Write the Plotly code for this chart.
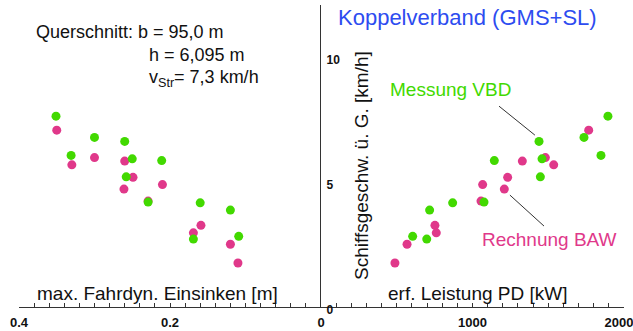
import plotly.graph_objects as go

W, H = 633, 331
FONT = "Liberation Sans, Arial, sans-serif"

# Measured values (green) and computed values (pink); shared speed axis
speed_mess = [7.60, 6.75, 6.59, 6.03, 5.89, 5.82, 5.17, 4.16, 4.13, 3.84, 2.79, 2.68]
sink_mess = [0.351, 0.300, 0.260, 0.331, 0.250, 0.211, 0.258, 0.229, 0.160, 0.120, 0.109, 0.169]
power_mess = [1894, 1736, 1439, 1848, 1459, 1144, 1448, 1076, 869, 717, 605, 698]

speed_rech = [7.04, 5.94, 5.80, 5.65, 5.15, 4.86, 4.68, 4.20, 3.23, 2.93, 2.47, 1.72]
sink_rech = [0.350, 0.300, 0.260, 0.330, 0.249, 0.210, 0.261, 0.229, 0.159, 0.169, 0.120, 0.110]
power_rech = [1767, 1481, 1329, 1536, 1232, 1067, 1210, 1056, 752, 761, 568, 488]

sink_ticks = [0.4, 0.2, 0]
sink_ticktext = ["0.4", "0.2", "0"]
power_ticks = [1000]
power_ticktext = ["1000"]
power_end_tick = [2000]
power_end_text = ["2000"]
speed_ticks = [0, 5, 10]

GREEN = "#42d900"
PINK = "#e0388a"
BLUE = "#2d4cf0"
AXIS = "#333333"
NONE = "rgba(0,0,0,0)"

def px(x):
    return x / W

def py(y):
    return 1 - y / H

fig = go.Figure()
mk = dict(size=9, line=dict(width=0))
fig.add_trace(go.Scatter(x=sink_rech, y=speed_rech, mode="markers", xaxis="x", yaxis="y",
                         marker=dict(color=PINK, **mk), showlegend=False))
fig.add_trace(go.Scatter(x=power_rech, y=speed_rech, mode="markers", xaxis="x2", yaxis="y",
                         marker=dict(color=PINK, **mk), showlegend=False))
fig.add_trace(go.Scatter(x=sink_mess, y=speed_mess, mode="markers", xaxis="x", yaxis="y",
                         marker=dict(color=GREEN, **mk), showlegend=False))
fig.add_trace(go.Scatter(x=power_mess, y=speed_mess, mode="markers", xaxis="x2", yaxis="y",
                         marker=dict(color=GREEN, **mk), showlegend=False))
# empty trace so that the overlay axis carrying the end label gets drawn
fig.add_trace(go.Scatter(x=[], y=[], mode="markers", xaxis="x3", yaxis="y",
                         showlegend=False, hoverinfo="skip"))

xtickfont = dict(family=FONT, size=13, color="#111", weight="bold")
ytickfont = dict(family=FONT, size=12, color="#111", weight="bold")
axis_common = dict(showline=True, linewidth=1, showgrid=False, zeroline=False,
                   ticks="inside", ticklen=4, tickwidth=1, automargin=False, tickangle=0,
                   ticklabeloverflow="allow", ticklabelstandoff=3, tickfont=xtickfont,
                   fixedrange=True)

LEFT_DOM = [px(19), px(321)]
RIGHT_DOM = [px(321), px(624)]

fig.update_layout(
    template="none",
    width=W, height=H,
    margin=dict(l=0, r=0, t=0, b=0, pad=0),
    paper_bgcolor="white", plot_bgcolor="rgba(0,0,0,0)",
    xaxis=dict(domain=LEFT_DOM, range=[0.4, 0], anchor="y",
               tickmode="array", tickvals=sink_ticks, ticktext=sink_ticktext,
               linecolor=AXIS, tickcolor=AXIS,
               minor=dict(tickmode="linear", tick0=0, dtick=0.02, ticks="inside", ticklen=4,
                          tickcolor=AXIS, tickwidth=1, showgrid=False),
               **axis_common),
    xaxis2=dict(domain=RIGHT_DOM, range=[0, 2000], anchor="y",
                tickmode="array", tickvals=power_ticks, ticktext=power_ticktext,
                linecolor=AXIS, tickcolor=AXIS,
                minor=dict(tickmode="linear", tick0=0, dtick=100, ticks="inside", ticklen=4,
                           tickcolor=AXIS, tickwidth=1, showgrid=False),
                **axis_common),
    # end label of the power axis, nudged so that it stays inside the figure
    xaxis3=dict(domain=RIGHT_DOM, range=[0, 2000], anchor="y", overlaying="x2",
                tickmode="array", tickvals=power_end_tick, ticktext=power_end_text,
                linecolor=NONE, tickcolor=NONE, ticklabelshift=-5,
                **axis_common),
    yaxis=dict(domain=[py(307), py(5)], range=[-0.04, 12.05], anchor="x2", side="left",
               showline=True, linecolor=AXIS, linewidth=1, showgrid=False, zeroline=False,
               ticks="", tickmode="array", tickvals=speed_ticks, automargin=False,
               ticklabelposition="inside", ticklabeloverflow="allow", ticklabelshift=4,
               ticklabelstandoff=5, tickfont=ytickfont, fixedrange=True),
)

# leader lines from the labels to the points
fig.add_shape(type="line", xref="x2", yref="y", x0=1175, y0=8.0, x1=1412, y1=6.84,
              line=dict(color=AXIS, width=1))
fig.add_shape(type="line", xref="x2", yref="y", x0=1247, y0=4.44, x1=1472, y1=3.2,
              line=dict(color=AXIS, width=1))

def label(text, x, y, size, color="#111", xanchor="center", angle=0):
    fig.add_annotation(text=text, x=px(x), y=py(y), xref="paper", yref="paper",
                       xanchor=xanchor, yanchor="middle", showarrow=False, textangle=angle,
                       borderpad=0, font=dict(family=FONT, size=size, color=color))

label("Koppelverband (GMS+SL)", 467, 17, 22, BLUE)
label("Querschnitt: b = 95,0 m", 35, 32, 18, xanchor="left")
label("h = 6,095 m", 148, 55, 18, xanchor="left")
label("v<sub>Str</sub>= 7,3 km/h", 148, 78, 18, xanchor="left")
label("Messung VBD", 451, 90, 19, GREEN)
label("Rechnung BAW", 549, 239, 19, PINK)
label("Schiffsgeschw. ü. G. [km/h]", 361, 166, 19, angle=-90)
label("max. Fahrdyn. Einsinken [m]", 157, 293, 19)
label("erf. Leistung PD [kW]", 478, 293, 19)

fig.write_html("out.html")
